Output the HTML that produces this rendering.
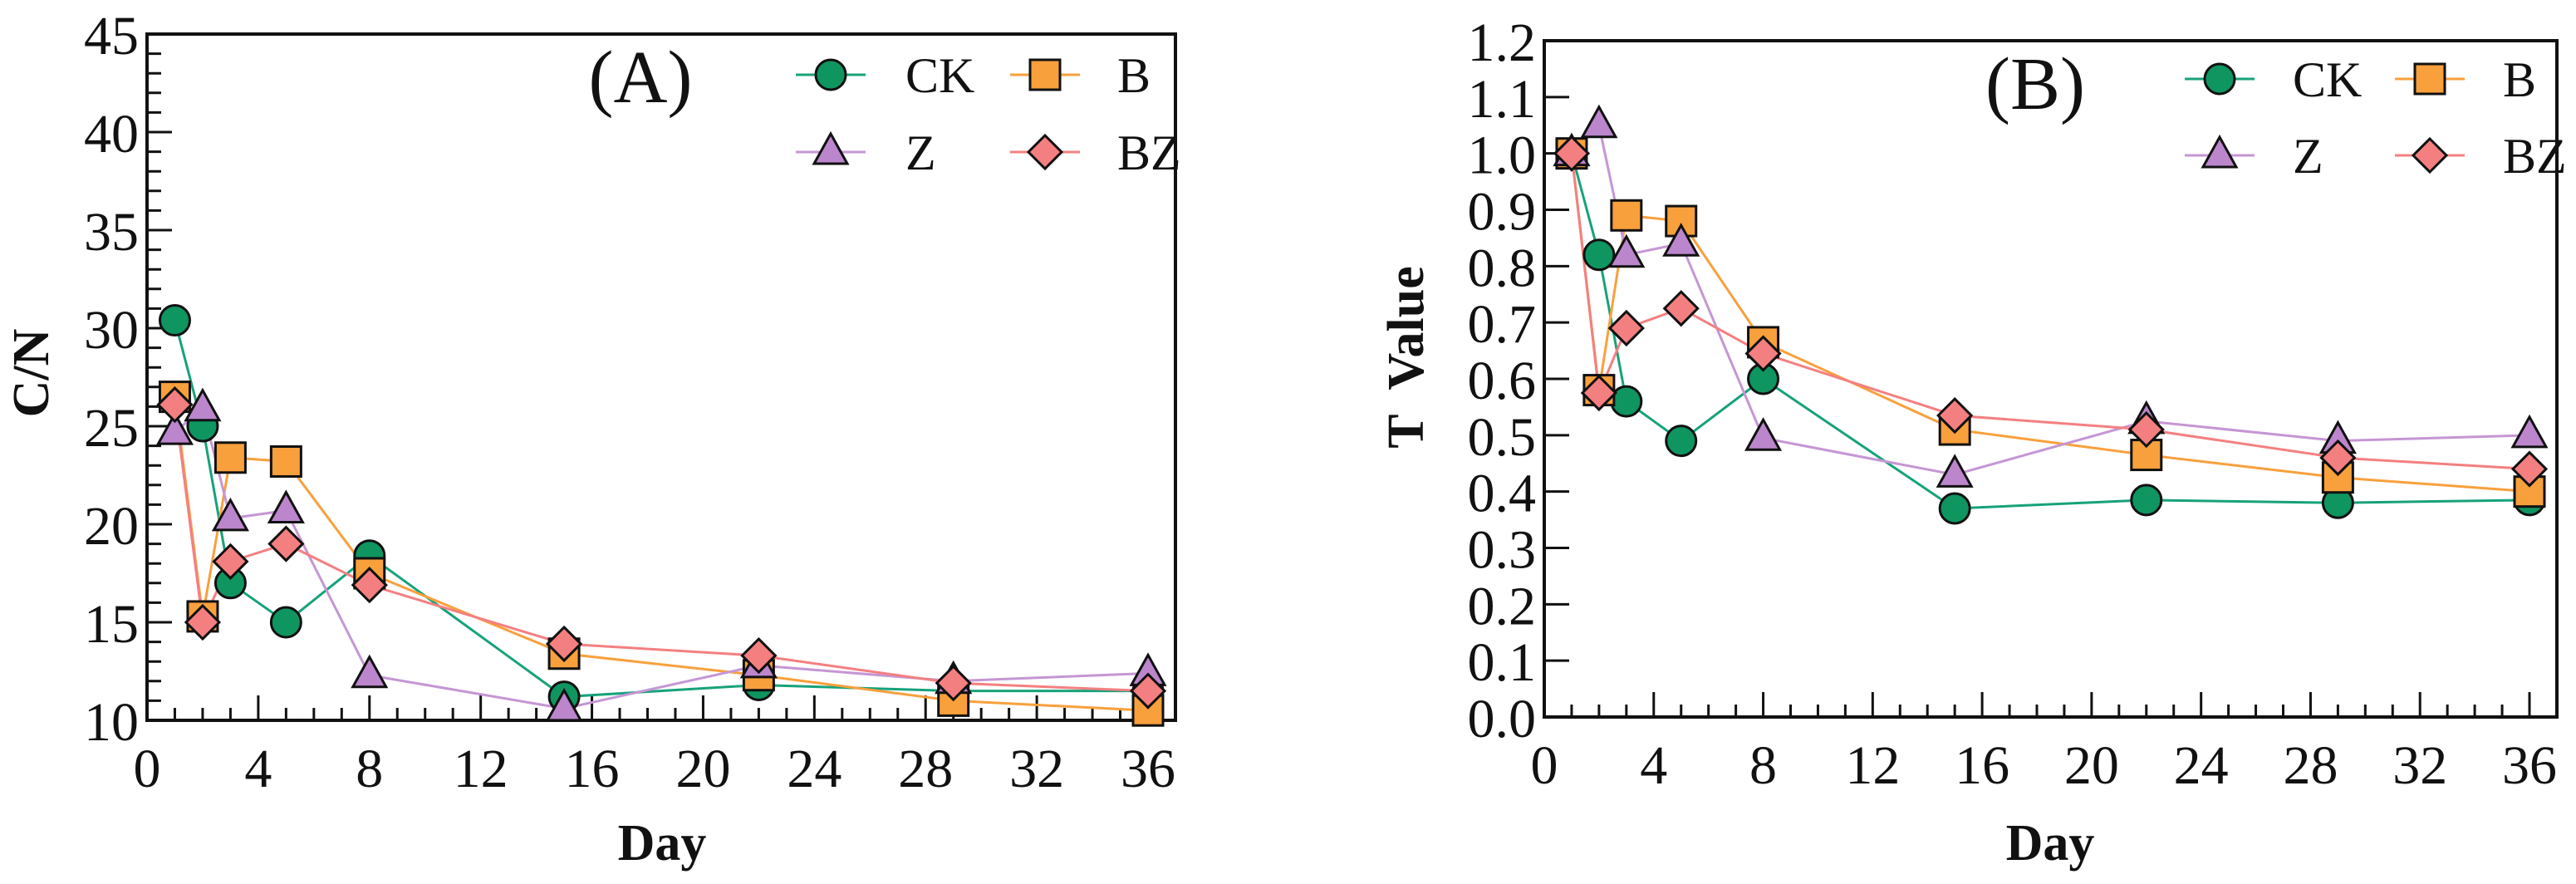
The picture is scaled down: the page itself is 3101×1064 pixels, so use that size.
<!DOCTYPE html>
<html><head><meta charset="utf-8"><style>
html,body{margin:0;padding:0;background:#fff;}
svg{display:block;}
text{font-family:"Liberation Serif",serif;fill:#111;}
</style></head><body>
<svg id="fig" width="3101" height="1064" viewBox="0 0 3101 1064" xmlns="http://www.w3.org/2000/svg"></svg>
<script>
const days = [1,2,3,5,8,15,22,29,36];
const seriesNames = ['CK','B','Z','BZ'];
const cnCK = [30.4,25.0,17.0,15.0,18.4,11.2,11.8,11.5,11.5];
const cnB  = [26.5,15.3,23.4,23.2,17.5,13.4,12.3,11.0,10.5];
const cnZ  = [24.7,25.9,20.3,20.7,12.3,10.6,12.8,12.0,12.4];
const cnBZ = [26.1,15.0,18.1,19.0,16.9,13.9,13.3,11.9,11.5];
const tCK = [1.0,0.82,0.56,0.49,0.60,0.37,0.385,0.38,0.385];
const tB  = [1.0,0.58,0.89,0.88,0.665,0.51,0.465,0.425,0.40];
const tZ  = [1.0,1.05,0.82,0.84,0.495,0.43,0.525,0.49,0.50];
const tBZ = [1.0,0.575,0.69,0.725,0.645,0.535,0.51,0.46,0.44];
const xTicks = [0,4,8,12,16,20,24,28,32,36];
const cnTicks = [10,15,20,25,30,35,40,45];
const tTicks = [0,0.1,0.2,0.3,0.4,0.5,0.6,0.7,0.8,0.9,1.0,1.1,1.2];

const NS='http://www.w3.org/2000/svg';
const svg=document.getElementById('fig');
function el(tag,attrs,parent){const e=document.createElementNS(NS,tag);for(const k in attrs)e.setAttribute(k,attrs[k]);(parent||svg).appendChild(e);return e;}
const styles={CK:{fill:'#0f9560',line:'#17a27a',shape:'circle'},B:{fill:'#f8a03c',line:'#f8a03c',shape:'square'},Z:{fill:'#bb86cc',line:'#c596d4',shape:'triangle'},BZ:{fill:'#f47f80',line:'#f47f80',shape:'diamond'}};
function marker(g,shape,cx,cy,fill){
  let m;
  if(shape==='circle')m=el('circle',{cx,cy,r:18},g);
  else if(shape==='square')m=el('rect',{x:cx-18,y:cy-18,width:36,height:36},g);
  else if(shape==='triangle')m=el('polygon',{points:`${cx},${cy-22} ${cx+20},${cy+14} ${cx-20},${cy+14}`},g);
  else m=el('polygon',{points:`${cx},${cy-20} ${cx+20},${cy} ${cx},${cy+20} ${cx-20},${cy}`},g);
  m.setAttribute('fill',fill);m.setAttribute('stroke','#111');m.setAttribute('stroke-width','3');
  return m;
}
function panel(cfg){
  const g=el('g',{});
  
  
  const X=d=>cfg.x0+(d-0)*(cfg.x36-cfg.x0)/36;
  const Y=v=>cfg.yb+(v-cfg.ymin)*(cfg.yt-cfg.yb)/(cfg.ymax-cfg.ymin);
  const fr=el('rect',{x:cfg.x0,y:cfg.yt,width:cfg.xr-cfg.x0,height:cfg.yb-cfg.yt,fill:'none',stroke:'#111','stroke-width':4},g);
  
  for(let d=1;d<=37;d++){const x=X(d);if(x>=cfg.xr)break;const maj=d%4===0;el('line',{x1:x,x2:x,y1:cfg.yb,y2:cfg.yb-(maj?30:15),stroke:'#111','stroke-width':3},g);}
  xTicks.forEach(t=>{const tx=el('text',{x:X(t),y:cfg.yb+80,'font-size':66,'text-anchor':'middle'},g);tx.textContent=t;
    });
  cfg.minor.forEach(v=>{el('line',{x1:cfg.x0,x2:cfg.x0+17,y1:Y(v),y2:Y(v),stroke:'#111','stroke-width':3},g);});
  cfg.ticks.forEach(v=>{if(v>cfg.ymin&&v<cfg.ymax)el('line',{x1:cfg.x0,x2:cfg.x0+30,y1:Y(v),y2:Y(v),stroke:'#111','stroke-width':3},g);
    const tx=el('text',{x:cfg.x0-10,y:Y(v)+24,'font-size':66,'text-anchor':'end'},g);tx.textContent=cfg.fmt(v);
    });
  const xt=el('text',{x:cfg.xTitleX,y:1035,'font-size':62,'font-weight':'bold','text-anchor':'middle'},g);xt.textContent='Day';
  
  const yt=el('text',{x:0,y:0,'font-size':62,'font-weight':'bold','text-anchor':'middle','xml:space':'preserve',transform:`translate(${cfg.yTitleX},${cfg.yTitleY}) rotate(-90)`},g);yt.textContent=cfg.ytitle;
  yt.setAttribute('style','white-space:pre');
  
  const pl=el('text',{x:cfg.labelX,y:cfg.yt+82,'font-size':90,'text-anchor':'middle'},g);pl.textContent=cfg.label;
  
  cfg.series.forEach((vals,i)=>{const nm=seriesNames[i];const s=styles[nm];
    const sg=el('g',{},g);
    
    
    el('polyline',{points:days.map((d,j)=>X(d)+','+Y(vals[j])).join(' '),fill:'none',stroke:s.line,'stroke-width':3},sg);
  });
  cfg.series.forEach((vals,i)=>{const nm=seriesNames[i];const s=styles[nm];
    days.forEach((d,j)=>{const m=marker(g,s.shape,X(d),Y(vals[j]),s.fill);
      
      });
  });
  const lg=el('g',{},g);
  
  
  seriesNames.forEach((nm,i)=>{const s=styles[nm];const col=i%2,row=Math.floor(i/2);
    const mx=cfg.legX[col],my=cfg.legY[row];
    el('line',{x1:mx-42,x2:mx+42,y1:my,y2:my,stroke:s.line,'stroke-width':3},lg);
    const m=marker(lg,s.shape,mx,my,s.fill);
    
    
    const t=el('text',{x:cfg.legTX[col],y:my+21,'font-size':60},lg);t.textContent=nm;
    
    
  });
}
const cnMinor=[];for(let v=11;v<45;v++)if(v%5)cnMinor.push(v);
panel({name:'panel-a-cn',x0:177,x36:1382,xr:1415,yt:41,yb:867,ymin:10,ymax:45,ticks:cnTicks,minor:cnMinor,fmt:v=>String(v),
  series:[cnCK,cnB,cnZ,cnBZ],ytitle:'C/N',yTitleX:58,yTitleY:449,xTitleX:797,label:'(A)',labelX:771,
  legX:[1000,1258],legY:[90,183],legTX:[1090,1345]});
panel({name:'panel-b-tvalue',x0:1859,x36:3045,xr:3078,yt:49,yb:863,ymin:0,ymax:1.2,ticks:tTicks,minor:[],fmt:v=>v.toFixed(1),
  series:[tCK,tB,tZ,tBZ],ytitle:'T  Value',yTitleX:1713,yTitleY:430,xTitleX:2468,label:'(B)',labelX:2450,
  legX:[2672,2925],legY:[95,187],legTX:[2760,3013]});
</script>
</body></html>
